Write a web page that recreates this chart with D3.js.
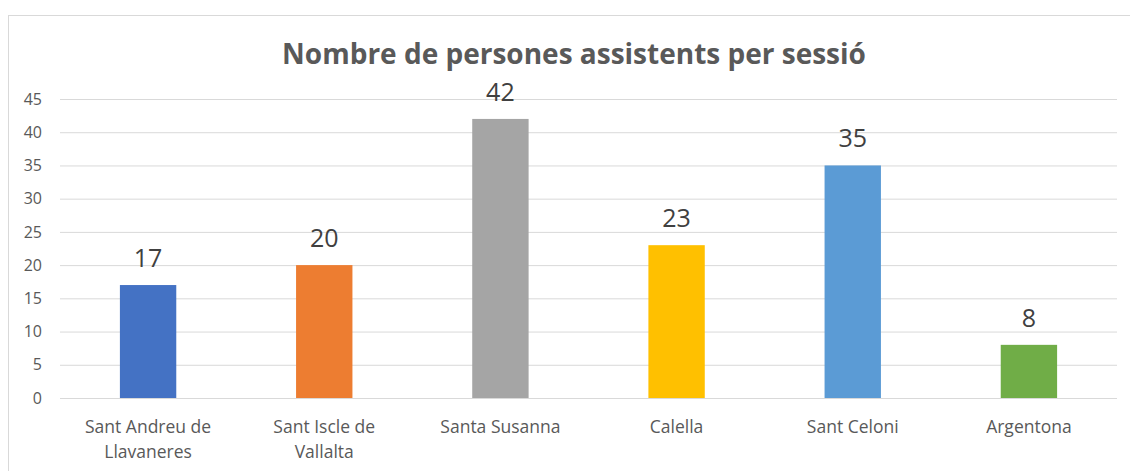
<!DOCTYPE html>
<html>
<head>
<meta charset="utf-8">
<script src="https://d3js.org/d3.v7.min.js"></script>
<style>
  body { margin: 0; background: #fff; }
  svg { display: block; font-family: "Open Sans", "DejaVu Sans", sans-serif; }
</style>
</head>
<body>
<div id="chart"></div>
<script>
// chart data
var categories = ["Sant Andreu de Llavaneres", "Sant Iscle de Vallalta", "Santa Susanna", "Calella", "Sant Celoni", "Argentona"];
var values = [17, 20, 42, 23, 35, 8];
var barColors = ["#4472C4", "#ED7D31", "#A5A5A5", "#FFC000", "#5B9BD5", "#70AD47"];
var yTicks = [0, 5, 10, 15, 20, 25, 30, 35, 40, 45];
var title = "Nombre de persones assistents per sessió";

var width = 1130, height = 471;
var margin = {top: 99, right: 13, bottom: 73, left: 60};
var plotW = width - margin.left - margin.right,
    plotH = height - margin.top - margin.bottom;

var svg = d3.select("#chart").append("svg")
  .attr("width", width)
  .attr("height", height);

// outer chart border
svg.append("rect")
  .attr("x", 8.5).attr("y", 15.5)
  .attr("width", 1140).attr("height", 480)
  .attr("fill", "none")
  .attr("stroke", "#D9D9D9");

svg.append("text")
  .attr("x", 574).attr("y", 64)
  .attr("text-anchor", "middle")
  .style("font-size", "28px")
  .style("font-weight", "bold")
  .style("fill", "#595959")
  .text(title);

var g = svg.append("g")
  .attr("transform", "translate(" + margin.left + "," + margin.top + ")");

var x = d3.scaleBand()
  .domain(categories)
  .range([0, plotW])
  .paddingInner(0.68)
  .paddingOuter(0.34);

var y = d3.scaleLinear()
  .domain([0, 45])
  .range([plotH, 0]);

// gridlines + y labels
var yAxis = g.append("g")
  .call(d3.axisLeft(y).tickValues(yTicks).tickSize(-plotW).tickPadding(18));
yAxis.select(".domain").remove();
yAxis.selectAll(".tick line").attr("stroke", "#D9D9D9").attr("stroke-width", 1);
yAxis.selectAll(".tick text")
  .style("font-size", "16px")
  .style("fill", "#595959")
  .style("font-family", "\"Open Sans\", sans-serif");

// bars
g.selectAll(".bar")
  .data(values)
  .enter()
  .append("rect")
  .attr("class", "bar")
  .attr("x", function(d, i) { return x(categories[i]); })
  .attr("y", function(d) { return y(d); })
  .attr("width", x.bandwidth())
  .attr("height", function(d) { return plotH - y(d); })
  .attr("fill", function(d, i) { return barColors[i]; });

// value labels
g.selectAll(".val")
  .data(values)
  .enter()
  .append("text")
  .attr("class", "val")
  .attr("x", function(d, i) { return x(categories[i]) + x.bandwidth() / 2; })
  .attr("y", function(d) { return y(d) - 18; })
  .attr("text-anchor", "middle")
  .style("font-size", "25px")
  .style("fill", "#404040")
  .text(function(d) { return d; });

// category labels, wrapped
function wrapLines(name) {
  var words = name.split(" "), lines = [], cur = "";
  words.forEach(function(w) {
    var test = cur ? cur + " " + w : w;
    if (test.length > 14 && cur) { lines.push(cur); cur = w; }
    else cur = test;
  });
  lines.push(cur);
  return lines;
}

var xl = g.append("g").attr("transform", "translate(0," + plotH + ")");
categories.forEach(function(c) {
  var t = xl.append("text")
    .attr("x", x(c) + x.bandwidth() / 2)
    .attr("y", 35)
    .attr("text-anchor", "middle")
    .style("font-size", "17.5px")
    .style("fill", "#595959");
  wrapLines(c).forEach(function(line, i) {
    t.append("tspan")
      .attr("x", x(c) + x.bandwidth() / 2)
      .attr("dy", i === 0 ? 0 : 25)
      .text(line);
  });
});
</script>
</body>
</html>
